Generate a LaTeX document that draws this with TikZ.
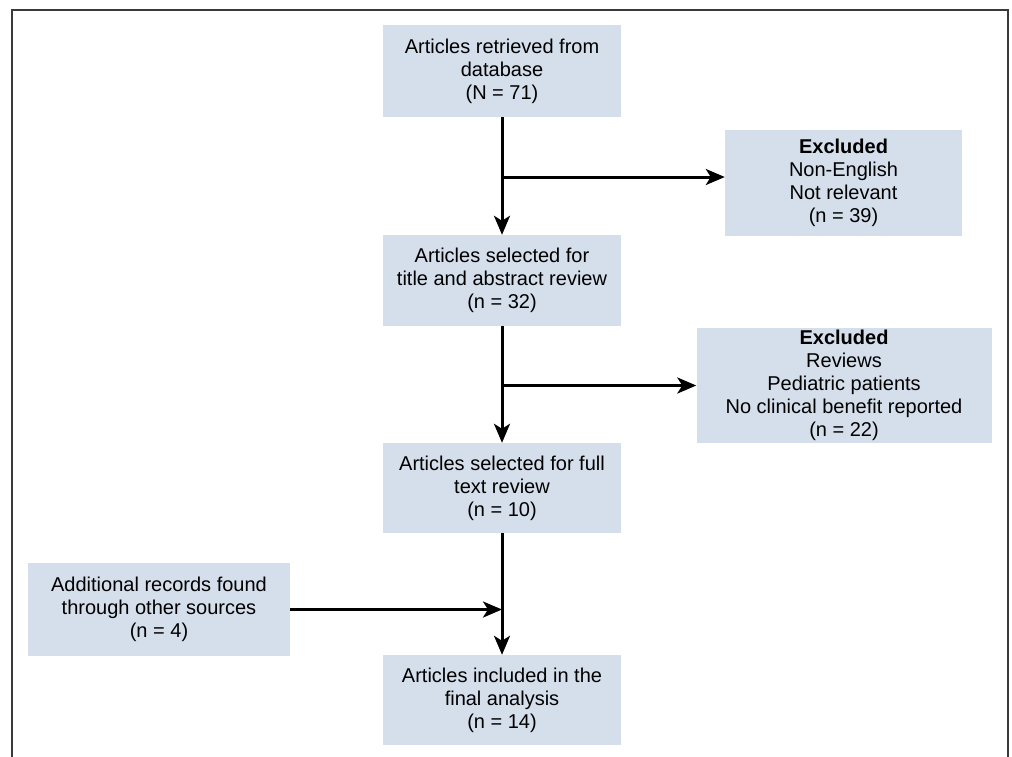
\documentclass[tikz,border=0pt]{standalone}
\usepackage{fontspec}
\setmainfont{Liberation Sans}
\usetikzlibrary{arrows.meta,calc}
\definecolor{boxfill}{HTML}{D5DFEC}
\definecolor{framecol}{HTML}{3A3A3A}
\begin{document}
\begin{tikzpicture}[x=1pt,y=-1pt,
  box/.style={fill=boxfill,draw=none,align=center,inner sep=0pt,
    font=\fontsize{20pt}{23pt}\selectfont},
  arr/.style={line width=3pt,-{Stealth[length=19pt,width=16pt,inset=5pt]}}]
\useasboundingbox (0,0) rectangle (1012,756);
\draw[framecol,line width=2pt] (12,770) -- (12,10) -- (1008,10) -- (1008,770);
\node[box,minimum width=238pt,minimum height=92pt] (b1) at (502,71)
  {Articles retrieved from\\database\\(N = 71)};
\node[box,minimum width=237pt,minimum height=106pt] (ex1) at (843.5,183)
  {\textbf{Excluded}\\Non-English\\Not relevant\\(n = 39)};
\node[box,minimum width=238pt,minimum height=91pt] (b2) at (502,280.5)
  {Articles selected for\\title and abstract review\\(n = 32)};
\node[box,minimum width=295pt,minimum height=115pt] (ex2) at (844,385.5)
  {\textbf{Excluded}\\Reviews\\Pediatric patients\\No clinical benefit reported\\(n = 22)};
\node[box,minimum width=238pt,minimum height=90pt] (b3) at (502,488)
  {Articles selected for full\\text review\\(n = 10)};
\node[box,minimum width=262pt,minimum height=93pt] (add) at (159,609.5)
  {Additional records found\\through other sources\\(n = 4)};
\node[box,minimum width=238pt,minimum height=90pt] (b4) at (502,700)
  {Articles included in the\\final analysis\\(n = 14)};
\coordinate (j1) at (502,177);
\coordinate (j2) at (502,385.5);
\coordinate (j3) at (502,609.5);
\draw[arr] (b1) -- (b2);
\draw[arr] (j1) -- (j1 -| ex1.west);
\draw[arr] (b2) -- (b3);
\draw[arr] (j2) -- (j2 -| ex2.west);
\draw[arr] (b3) -- (b4);
\draw[arr] (add) -- (j3);
\end{tikzpicture}
\end{document}
